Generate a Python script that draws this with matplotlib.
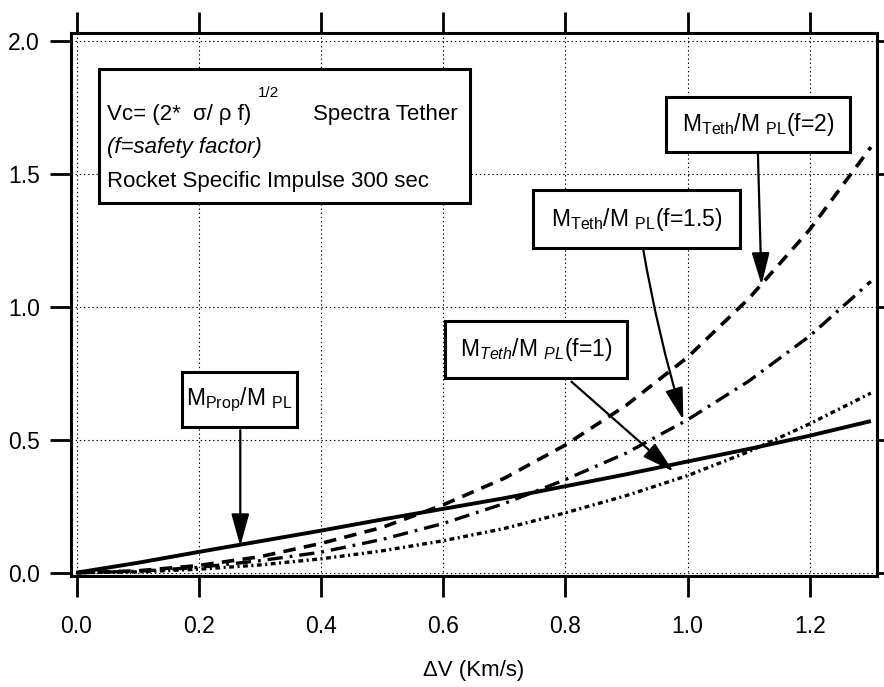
import matplotlib
matplotlib.use("Agg")
from matplotlib import pyplot as plt
from matplotlib import font_manager
from matplotlib.patches import Rectangle

# ΔV (Km/s)
dv = [0.0, 0.1, 0.2, 0.3, 0.4, 0.5, 0.6, 0.7, 0.8, 0.9, 1.0, 1.1, 1.2, 1.3]

# mass ratios
m_prop = [0.0, 0.037, 0.078, 0.118, 0.158, 0.2, 0.24, 0.28, 0.325, 0.37, 0.418, 0.465, 0.515, 0.57]
m_teth_f1 = [0.0, 0.003, 0.013, 0.029, 0.052, 0.082, 0.12, 0.166, 0.225, 0.29, 0.365, 0.455, 0.56, 0.675]
m_teth_f15 = [0.0, 0.005, 0.02, 0.045, 0.077, 0.125, 0.185, 0.26, 0.35, 0.45, 0.575, 0.72, 0.89, 1.095]
m_teth_f2 = [0.0, 0.007, 0.027, 0.06, 0.11, 0.17, 0.255, 0.355, 0.48, 0.63, 0.81, 1.03, 1.29, 1.6]

x_ticks = [0.0, 0.2, 0.4, 0.6, 0.8, 1.0, 1.2]
y_ticks = [0.0, 0.5, 1.0, 1.5, 2.0]

# 原图字体偏窄，有 Narrow 就用 Narrow
names = {f.name for f in font_manager.fontManager.ttflist}
if 'Liberation Sans Narrow' in names:
    FONT = 'Liberation Sans Narrow'
    k = 1.17
else:
    FONT = 'Liberation Sans'
    k = 1.0

plt.rcParams['font.family'] = [FONT, 'DejaVu Sans']
plt.rcParams['mathtext.fontset'] = 'custom'
plt.rcParams['mathtext.rm'] = FONT
plt.rcParams['mathtext.it'] = FONT + ':italic'
plt.rcParams['mathtext.default'] = 'regular'
plt.rcParams['lines.scale_dashes'] = False

fig = plt.figure(figsize=(8.84, 6.87), dpi=100)
ax = fig.add_axes([0.0798, 0.1616, 0.9123, 0.7904])

# curves
ax.plot(dv, m_prop, color='k', lw=2.8, solid_capstyle='butt')
ax.plot(dv, m_teth_f1, color='k', lw=2.4, ls=(0, (3.5, 2.5, 1.5, 2.5)))
ax.plot(dv, m_teth_f15, color='k', lw=2.4, ls=(0, (11, 5, 2, 5)))
ax.plot(dv, m_teth_f2, color='k', lw=2.6, ls=(0, (9, 6)))

ax.set_xlim(-0.0098, 1.310)
ax.set_ylim(-0.0124, 2.029)
ax.set_xticks(x_ticks)
ax.set_xticklabels(["%.1f" % v for v in x_ticks])
ax.set_yticks(y_ticks)
ax.set_yticklabels(["%.1f" % v for v in y_ticks])

ax.grid(True, ls=(0, (1, 2)), color='k', lw=0.8)
ax.set_axisbelow(True)
for s in ax.spines.values():
    s.set_linewidth(2.2)
ax.tick_params(which='major', direction='out', length=15, width=2,
               top=True, right=True, labelsize=16.5 * k)
ax.tick_params(axis='x', pad=13)
ax.tick_params(axis='y', pad=7)
ax.set_xlabel("ΔV (Km/s)", fontsize=16 * k, labelpad=16)

# info box
ax.add_patch(Rectangle((0.037, 1.39), 0.607, 0.504, fc='white', ec='k', lw=2.2, zorder=5))
ax.text(0.05, 1.70, "Vc= (2*  σ/ ρ f)", fontsize=16 * k, zorder=6)
ax.text(0.297, 1.79, "1/2", fontsize=11 * k, zorder=6)
ax.text(0.387, 1.70, "Spectra Tether", fontsize=16 * k, zorder=6)
ax.text(0.05, 1.578, "(f=safety factor)", fontsize=16 * k, style='italic', zorder=6)
ax.text(0.05, 1.45, "Rocket Specific Impulse 300 sec", fontsize=16 * k, zorder=6)


def label_box(x0, y0, x1, y1, text):
    ax.add_patch(Rectangle((x0, y0), x1 - x0, y1 - y0, fc='white', ec='k', lw=2.2, zorder=5))
    ax.text((x0 + x1) / 2, (y0 + y1) / 2, text, fontsize=16.5 * k,
            ha='center', va='center', zorder=6)


def arrow(start, tip, rad=0.0):
    ax.annotate('', xy=tip, xytext=start, zorder=7,
                arrowprops=dict(arrowstyle='-|>,head_length=0.9,head_width=0.25',
                                mutation_scale=22, lw=1.6, color='k',
                                shrinkA=0, shrinkB=0,
                                connectionstyle="arc3,rad=%s" % rad))


label_box(0.965, 1.582, 1.266, 1.788, r"$M_{Teth}/M\ _{PL}$(f=2)")
arrow((1.115, 1.582), (1.121, 1.082))

label_box(0.747, 1.22, 1.086, 1.438, r"$M_{Teth}/M\ _{PL}$(f=1.5)")
arrow((0.927, 1.22), (0.993, 0.574), rad=0.03)

label_box(0.603, 0.732, 0.901, 0.945, r"$M_{\mathit{Teth}}/M\ _{\mathit{PL}}$(f=1)")
arrow((0.81, 0.718), (0.977, 0.38))

label_box(0.173, 0.548, 0.361, 0.755, r"$M_{Prop}/M\ _{PL}$")
arrow((0.268, 0.536), (0.268, 0.10))

plt.savefig("out.png", dpi=100)
